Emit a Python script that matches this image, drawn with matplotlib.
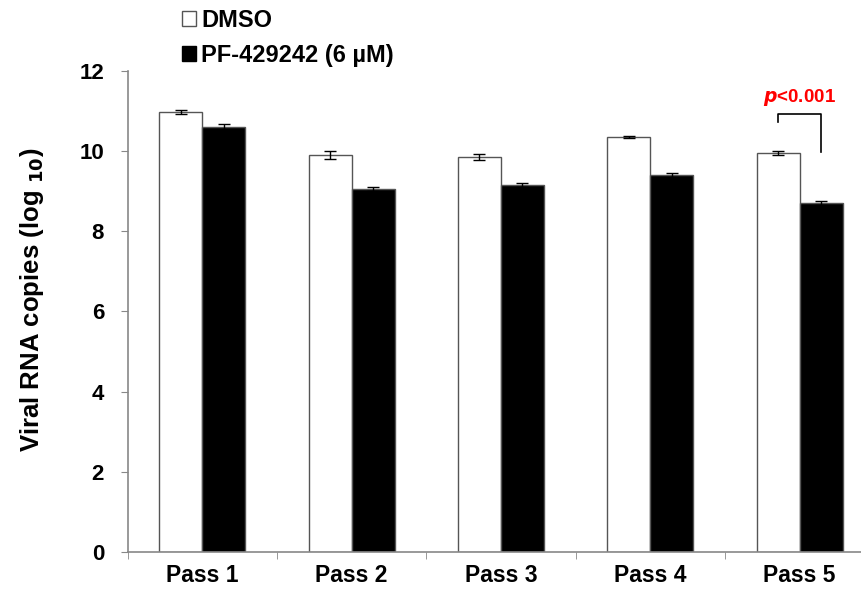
import numpy as np
import matplotlib
matplotlib.use('Agg')
import matplotlib.pyplot as plt
from matplotlib.patches import Patch

plt.rcParams['font.family'] = ['Liberation Sans', 'DejaVu Sans']
plt.rcParams['font.weight'] = 'bold'
plt.rcParams['mathtext.default'] = 'regular'

passes = ['Pass 1', 'Pass 2', 'Pass 3', 'Pass 4', 'Pass 5']
dmso = [10.97, 9.90, 9.85, 10.35, 9.95]
dmso_err = [0.05, 0.10, 0.07, 0.02, 0.05]
pf = [10.60, 9.05, 9.15, 9.40, 8.70]
pf_err = [0.08, 0.05, 0.05, 0.06, 0.05]

fig = plt.figure(figsize=(8.61, 5.95), dpi=100)
# the axes run a little past the right edge of the figure, as in the original
ax = fig.add_axes([0.1483, 0.0723, 0.867, 0.8084])

x = np.arange(len(passes))
w = 0.288
ax.bar(x - w / 2, dmso, w, color='white', edgecolor='#555555', linewidth=1,
       yerr=dmso_err, capsize=4, error_kw=dict(elinewidth=1, ecolor='black', capthick=1))
ax.bar(x + w / 2, pf, w, color='black', edgecolor='#555555', linewidth=1,
       yerr=pf_err, capsize=4, error_kw=dict(elinewidth=1, ecolor='black', capthick=1))

ax.set_xlim(-0.5, len(passes) - 0.5)
ax.set_ylim(0, 12)
ax.set_yticks(range(0, 13, 2))
ax.set_xticks(x)
ax.set_xticklabels(passes, fontsize=16.5, fontweight='bold')
ax.set_xticks(np.arange(-0.5, len(passes), 1), minor=True)
ax.tick_params(axis='x', which='major', length=0, pad=9)
ax.tick_params(axis='x', which='minor', length=5, direction='out', color='#888888')
ax.tick_params(axis='y', length=5, direction='out', color='#888888', labelsize=16, pad=12)
for lab in ax.get_yticklabels():
    lab.set_fontweight('bold')

for s in ['top', 'right']:
    ax.spines[s].set_visible(False)
for s in ['left', 'bottom']:
    ax.spines[s].set_color('#888888')
    ax.spines[s].set_linewidth(1.2)

ax.set_ylabel(r'Viral RNA copies (log $_{\mathbf{10}}$)', fontsize=18.5, fontweight='bold')
ax.yaxis.set_label_coords(-0.109, 0.524)

# significance bracket on pass 5
i = 4
ax.plot([x[i] - w / 2, x[i] - w / 2, x[i] + w / 2, x[i] + w / 2], [10.73, 10.93, 10.93, 9.98],
        color='black', linewidth=1.2)
ax.text(x[i], 11.35, r'$\mathbf{\it{p}}$<0.001', color='red', ha='center', va='center',
        fontsize=13.5, fontweight='bold')

handles = [Patch(facecolor='white', edgecolor='#555555', label='DMSO'),
           Patch(facecolor='black', edgecolor='black', label='PF-429242 (6 µM)')]
fig.legend(handles=handles, loc='upper left', bbox_to_anchor=(0.2114, 0.985), frameon=False,
           handlelength=0.6, handleheight=0.6, handletextpad=0.2,
           labelspacing=0.5, borderaxespad=0, borderpad=0,
           prop=dict(family=['Liberation Sans', 'DejaVu Sans'], weight='bold', size=17))

fig.savefig('out.png', dpi=100)
